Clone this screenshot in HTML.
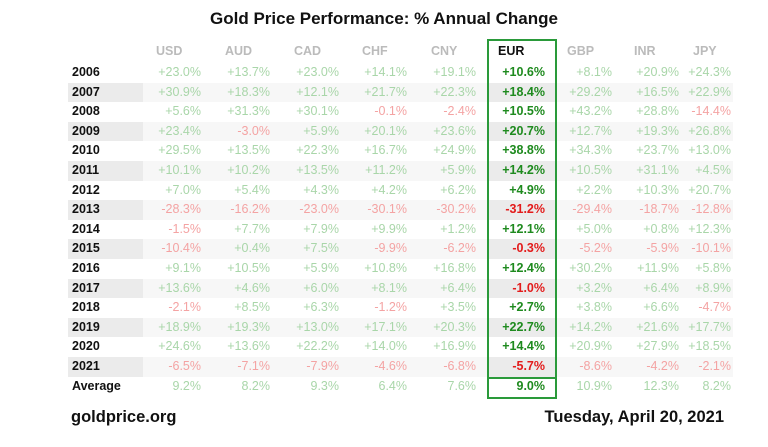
<!DOCTYPE html>
<html><head><meta charset="utf-8"><style>
body{margin:0;width:768px;height:447px;background:#fff;font-family:"Liberation Sans",sans-serif;position:relative;overflow:hidden}
.t{position:absolute;top:9px;left:0;width:768px;text-align:center;font-weight:bold;font-size:17px;color:#111}
.h{position:absolute;top:44px;font-size:12.5px;font-weight:bold;color:#bbb}
.row{position:absolute;left:68px;width:665px;height:19.6px;font-size:12.5px;line-height:19.6px}
.row.s{background:#f7f7f7}
.y{position:absolute;left:0;width:75px;height:100%;padding-left:4px;box-sizing:border-box;font-weight:bold;color:#111}
.row.s .y{background:#ebebeb}
.c{position:absolute;text-align:right;width:60px}
.g{color:#a9d6a9}.r{color:#f4a3a3}
.e{font-weight:bold}.eg{color:#1e8a1e}.er{color:#e31b1b}
.row.s .eb{background:#ebebeb}
.box{position:absolute;border:2px solid #2a9a3a;box-sizing:border-box;z-index:5}
.f{position:absolute;top:408px;font-weight:bold;font-size:16.5px;color:#111}
</style></head><body>
<div class="t">Gold Price Performance: % Annual Change</div>
<div class="box" style="left:487px;top:39px;width:70px;height:340px"></div>
<div class="box" style="left:487px;top:377px;width:70px;height:22px"></div>
<div id="hdr"></div>
<div id="rows"></div>
<div class="f" style="left:71px">goldprice.org</div>
<div class="f" style="right:44px">Tuesday, April 20, 2021</div>
<script>
const rights=[201,270,339,407,476,545,612,679,731];
const names=["USD","AUD","CAD","CHF","CNY","EUR","GBP","INR","JPY"];
let h="";
names.forEach((n,i)=>{
 if(i==5) h+=`<div class="h" style="left:498px;color:#111">EUR</div>`;
 else h+=`<div class="h" style="left:${rights[i]-(i==8?38:45)}px">${n}</div>`;
});
document.getElementById("hdr").innerHTML=h;
const d=[
["2006","+23.0","+13.7","+23.0","+14.1","+19.1","+10.6","+8.1","+20.9","+24.3"],
["2007","+30.9","+18.3","+12.1","+21.7","+22.3","+18.4","+29.2","+16.5","+22.9"],
["2008","+5.6","+31.3","+30.1","-0.1","-2.4","+10.5","+43.2","+28.8","-14.4"],
["2009","+23.4","-3.0","+5.9","+20.1","+23.6","+20.7","+12.7","+19.3","+26.8"],
["2010","+29.5","+13.5","+22.3","+16.7","+24.9","+38.8","+34.3","+23.7","+13.0"],
["2011","+10.1","+10.2","+13.5","+11.2","+5.9","+14.2","+10.5","+31.1","+4.5"],
["2012","+7.0","+5.4","+4.3","+4.2","+6.2","+4.9","+2.2","+10.3","+20.7"],
["2013","-28.3","-16.2","-23.0","-30.1","-30.2","-31.2","-29.4","-18.7","-12.8"],
["2014","-1.5","+7.7","+7.9","+9.9","+1.2","+12.1","+5.0","+0.8","+12.3"],
["2015","-10.4","+0.4","+7.5","-9.9","-6.2","-0.3","-5.2","-5.9","-10.1"],
["2016","+9.1","+10.5","+5.9","+10.8","+16.8","+12.4","+30.2","+11.9","+5.8"],
["2017","+13.6","+4.6","+6.0","+8.1","+6.4","-1.0","+3.2","+6.4","+8.9"],
["2018","-2.1","+8.5","+6.3","-1.2","+3.5","+2.7","+3.8","+6.6","-4.7"],
["2019","+18.9","+19.3","+13.0","+17.1","+20.3","+22.7","+14.2","+21.6","+17.7"],
["2020","+24.6","+13.6","+22.2","+14.0","+16.9","+14.4","+20.9","+27.9","+18.5"],
["2021","-6.5","-7.1","-7.9","-4.6","-6.8","-5.7","-8.6","-4.2","-2.1"],
["Average","9.2","8.2","9.3","6.4","7.6","9.0","10.9","12.3","8.2"]];
let r="";
d.forEach((row,k)=>{
 const s=(k%2==1&&k<16)?" s":"";
 r+=`<div class="row${s}" style="top:${63+k*19.6}px"><div class="y">${row[0]}</div>`;
 for(let i=0;i<9;i++){
  const v=row[i+1];const neg=v[0]=="-";
  let cls=neg?"r":"g";
  if(i==5){cls="e "+(neg?"er":"eg");
   r+=`<div class="eb" style="position:absolute;left:421px;width:67px;height:100%"></div>`;}
  r+=`<div class="c ${cls}" style="left:${rights[i]-68-60}px">${v}%</div>`;
 }
 r+=`</div>`;
});
document.getElementById("rows").innerHTML=r;
</script>
</body></html>
